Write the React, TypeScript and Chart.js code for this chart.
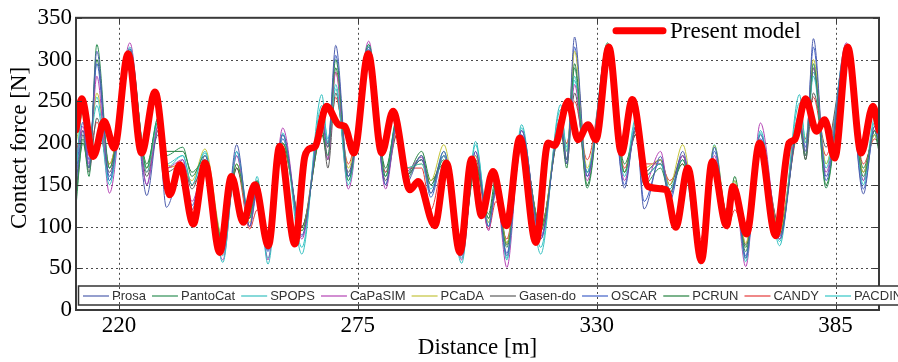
import React, { useEffect, useRef } from "react";
import { Chart, registerables } from "chart.js";

Chart.register(...registerables);

const SERIF = "'Liberation Serif', 'Times New Roman', serif";
const SANS = "'Liberation Sans', Arial, sans-serif";

// Distance [m] of the knots of the reference-code curves
const thinX = [
  210.1, 211.7, 213.1, 214.9, 217.8, 222.5, 226.4, 229.0, 230.9, 234.7, 236.8, 239.8, 243.9, 247.1, 250.1, 251.8, 254.3, 257.7, 262.1,
  266.7, 268.1, 269.9, 272.8, 277.5, 281.4, 284.0, 285.9, 289.7, 291.8, 294.8, 298.9, 302.1, 305.1, 306.8, 309.3, 312.7, 317.1,
  321.7, 323.1, 324.9, 327.8, 332.5, 336.4, 339.0, 340.9, 344.7, 346.8, 349.8, 353.9, 357.1, 360.1, 361.8, 364.3, 367.7, 372.1,
  376.7, 378.1, 379.9, 382.8, 387.5, 391.4, 394.0, 395.0,
];

const prosa = [
  150, 215, 170, 310, 160, 313, 137, 215, 123, 175, 120, 185, 70, 198, 100, 145, 72, 210, 90,
  225, 195, 317, 160, 315, 150, 225, 150, 185, 140, 190, 65, 190, 100, 145, 65, 215, 85,
  225, 175, 327, 160, 312, 146, 220, 121, 184, 135, 190, 65, 195, 105, 150, 62, 210, 85,
  225, 190, 325, 160, 315, 139, 220, 200,
];
const pantoCat = [
  125, 205, 160, 318, 170, 310, 170, 230, 185, 195, 160, 185, 80, 175, 110, 155, 80, 200, 95,
  215, 185, 300, 155, 318, 160, 230, 155, 185, 150, 180, 75, 175, 110, 150, 75, 205, 95,
  220, 180, 290, 146, 320, 165, 215, 150, 170, 140, 180, 70, 180, 110, 150, 70, 200, 90,
  225, 185, 295, 146, 312, 160, 215, 195,
];
const spops = [
  165, 245, 200, 245, 150, 315, 165, 225, 175, 185, 150, 190, 57, 190, 110, 160, 55, 210, 67,
  258, 200, 265, 150, 318, 160, 225, 170, 175, 140, 185, 56, 202, 100, 155, 60, 222, 67,
  246, 190, 280, 165, 315, 160, 225, 160, 175, 145, 180, 55, 195, 100, 150, 58, 215, 77,
  258, 200, 280, 170, 318, 150, 225, 210,
];
const capasim = [
  180, 220, 175, 280, 140, 320, 150, 220, 170, 180, 130, 175, 60, 185, 100, 150, 60, 218, 85,
  235, 180, 285, 145, 322, 145, 220, 165, 183, 140, 185, 60, 190, 95, 145, 51, 215, 85,
  230, 180, 270, 155, 318, 155, 215, 150, 190, 140, 185, 62, 185, 105, 140, 52, 224, 85,
  235, 185, 290, 165, 320, 155, 220, 205,
];
const pcada = [
  200, 235, 195, 260, 175, 300, 170, 215, 175, 170, 155, 193, 85, 175, 105, 150, 85, 200, 95,
  225, 195, 285, 170, 305, 160, 215, 170, 175, 155, 198, 80, 185, 105, 150, 80, 205, 95,
  230, 190, 310, 170, 305, 165, 215, 170, 180, 150, 198, 75, 197, 110, 155, 80, 200, 95,
  235, 200, 300, 175, 305, 165, 210, 200,
];
const gasendo = [
  140, 210, 165, 230, 165, 300, 160, 210, 165, 175, 145, 180, 80, 170, 110, 150, 80, 200, 100,
  220, 170, 260, 165, 305, 155, 210, 160, 180, 150, 185, 75, 180, 110, 150, 78, 200, 100,
  220, 175, 260, 165, 305, 165, 210, 165, 180, 150, 185, 75, 180, 115, 150, 78, 200, 100,
  225, 180, 260, 195, 305, 165, 215, 195,
];
const oscar = [
  160, 225, 180, 295, 155, 310, 150, 220, 140, 180, 125, 180, 70, 190, 100, 140, 70, 205, 88,
  230, 200, 305, 160, 312, 150, 225, 160, 180, 135, 185, 68, 185, 100, 140, 68, 210, 88,
  230, 180, 315, 160, 310, 150, 220, 130, 180, 130, 185, 68, 190, 105, 145, 65, 205, 88,
  230, 195, 315, 155, 310, 145, 215, 195,
];
const pcrun = [
  135, 200, 170, 300, 170, 305, 175, 225, 190, 190, 165, 180, 85, 170, 115, 155, 85, 195, 100,
  210, 180, 290, 160, 310, 170, 225, 160, 190, 155, 175, 78, 170, 115, 160, 80, 200, 100,
  215, 170, 295, 150, 318, 175, 210, 160, 175, 145, 175, 78, 175, 115, 160, 75, 195, 95,
  220, 180, 290, 150, 310, 170, 210, 190,
];
const candy = [
  190, 215, 185, 225, 175, 295, 165, 215, 170, 175, 150, 170, 85, 170, 97, 120, 85, 195, 100,
  210, 195, 255, 175, 300, 165, 210, 170, 170, 120, 175, 85, 175, 97, 130, 85, 195, 100,
  215, 200, 250, 180, 300, 170, 210, 175, 175, 155, 175, 85, 180, 97, 120, 88, 195, 100,
  215, 205, 255, 185, 300, 175, 205, 200,
];
const pacdin = [
  170, 240, 205, 255, 155, 312, 170, 230, 170, 185, 150, 188, 65, 185, 110, 155, 62, 212, 75,
  245, 205, 270, 155, 315, 165, 230, 165, 180, 145, 190, 62, 198, 105, 150, 62, 218, 75,
  240, 195, 275, 165, 312, 165, 230, 165, 180, 150, 185, 62, 198, 105, 155, 62, 212, 82,
  248, 205, 285, 175, 315, 155, 230, 215,
];

// Present model
const presentX = [
  210.1, 211.4, 214.1, 216.6, 218.9, 222.1, 225.2, 228.3, 231.7, 234.0, 237.1, 239.8, 243.2, 245.9, 248.6, 251.3, 254.4, 257.0, 260.5, 262.8,
  264.3, 265.2, 267.8, 270.6, 272.0, 274.1, 277.4, 280.5, 283.1, 287.0, 288.9, 292.7, 295.4, 298.5, 301.2, 303.5, 306.1, 309.2, 312.3, 316.0,
  318.8, 320.3, 323.4, 325.7, 328.0, 329.8, 332.8, 335.7, 338.2, 341.8, 346.0, 348.2, 351.0, 354.1, 356.6, 359.9, 361.4, 364.5, 367.5, 371.2,
  374.3, 375.6, 378.1, 380.6, 382.5, 384.8, 387.8, 390.9, 393.6, 395.0,
];
const presentY = [
  216, 253, 184, 226, 194, 307, 188, 261, 138, 174, 103, 176, 69, 160, 105, 150, 77, 196, 79, 184,
  194, 196, 244, 222, 220, 188, 307, 188, 238, 144, 154, 101, 176, 69, 181, 113, 166, 101, 206, 81,
  200, 197, 250, 204, 222, 204, 315, 188, 252, 148, 144, 99, 170, 59, 178, 101, 148, 91, 200, 89,
  200, 204, 253, 214, 228, 182, 315, 188, 244, 215,
];

const seriesNames = ["Prosa", "PantoCat", "SPOPS", "CaPaSIM", "PCaDA", "Gasen-do", "OSCAR", "PCRUN", "CANDY", "PACDIN"];
const seriesColors = ["#4f5fae", "#2f8f55", "#38c0c0", "#b444b4", "#c4c43c", "#5c5c5c", "#4262c8", "#23803f", "#e43a3a", "#34c6c6"];
const seriesValues = [prosa, pantoCat, spops, capasim, pcada, gasendo, oscar, pcrun, candy, pacdin];

const presentLabel = "Present model";
const xTicks = [220, 275, 330, 385];
const yTicks = [0, 50, 100, 150, 200, 250, 300, 350];
const xTitle = "Distance [m]";
const yTitle = "Contact force [N]";

const framePlugin = {
  id: "frameDecor",
  beforeDatasetsDraw(chart: any) {
    const { ctx, chartArea: a, scales } = chart;
    const x = scales.x;
    const y = scales.y;
    ctx.save();
    ctx.strokeStyle = "#4a4a4a";
    ctx.lineWidth = 1;
    ctx.setLineDash([2, 3]);
    for (const v of xTicks) {
      const px = Math.round(x.getPixelForValue(v)) + 0.5;
      ctx.beginPath();
      ctx.moveTo(px, a.top);
      ctx.lineTo(px, a.bottom);
      ctx.stroke();
    }
    for (const v of yTicks) {
      if (v === 0 || v === 350) continue;
      const py = Math.round(y.getPixelForValue(v)) + 0.5;
      ctx.beginPath();
      ctx.moveTo(a.left, py);
      ctx.lineTo(a.right, py);
      ctx.stroke();
    }
    ctx.restore();
  },
  afterDatasetsDraw(chart: any) {
    const { ctx, chartArea: a, scales } = chart;
    const x = scales.x;
    const y = scales.y;
    ctx.save();
    // frame
    ctx.strokeStyle = "#3a3a3a";
    ctx.lineWidth = 2;
    ctx.setLineDash([]);
    ctx.strokeRect(a.left, a.top, a.right - a.left, a.bottom - a.top);
    // inward ticks
    ctx.lineWidth = 1;
    for (const v of yTicks) {
      const py = Math.round(y.getPixelForValue(v)) + 0.5;
      ctx.beginPath();
      ctx.moveTo(a.left, py);
      ctx.lineTo(a.left + 6, py);
      ctx.moveTo(a.right, py);
      ctx.lineTo(a.right - 6, py);
      ctx.stroke();
    }
    for (const v of xTicks) {
      const px = Math.round(x.getPixelForValue(v)) + 0.5;
      ctx.beginPath();
      ctx.moveTo(px, a.bottom);
      ctx.lineTo(px, a.bottom - 6);
      ctx.moveTo(px, a.top);
      ctx.lineTo(px, a.top + 6);
      ctx.stroke();
    }
    // bottom legend box
    const boxTop = a.bottom - 24;
    const boxH = 19;
    ctx.fillStyle = "#ffffff";
    ctx.fillRect(a.left + 2, boxTop, 900, boxH);
    ctx.strokeStyle = "#333333";
    ctx.lineWidth = 1.5;
    ctx.strokeRect(a.left + 2.5, boxTop, 900, boxH);
    // gridlines through the box
    ctx.strokeStyle = "#4a4a4a";
    ctx.lineWidth = 1;
    ctx.setLineDash([2, 3]);
    for (const v of xTicks) {
      const px = Math.round(x.getPixelForValue(v)) + 0.5;
      ctx.beginPath();
      ctx.moveTo(px, boxTop + 1);
      ctx.lineTo(px, boxTop + boxH - 1);
      ctx.stroke();
    }
    ctx.setLineDash([]);
    ctx.font = `13px ${SANS}`;
    ctx.textBaseline = "middle";
    ctx.textAlign = "left";
    const cy = boxTop + boxH / 2 + 0.5;
    let cx = a.left + 7;
    for (let i = 0; i < seriesNames.length; i++) {
      ctx.strokeStyle = seriesColors[i];
      ctx.lineWidth = 1.2;
      ctx.beginPath();
      ctx.moveTo(cx, cy);
      ctx.lineTo(cx + 26, cy);
      ctx.stroke();
      ctx.fillStyle = "#333333";
      ctx.fillText(seriesNames[i], cx + 29, cy + 0.5);
      cx += 26 + 3 + ctx.measureText(seriesNames[i]).width + 6;
    }
    // top legend (present model)
    const ly = a.top + 13;
    ctx.strokeStyle = "#ff0000";
    ctx.lineWidth = 7;
    ctx.lineCap = "round";
    ctx.beginPath();
    ctx.moveTo(616, ly);
    ctx.lineTo(663, ly);
    ctx.stroke();
    ctx.fillStyle = "#000000";
    ctx.font = `23px ${SERIF}`;
    ctx.fillText(presentLabel, 670, ly + 1);
    ctx.restore();
  },
  afterDraw(chart: any) {
    const { ctx, chartArea: a } = chart;
    ctx.save();
    ctx.fillStyle = "#000000";
    ctx.font = `23px ${SERIF}`;
    ctx.textAlign = "center";
    ctx.textBaseline = "middle";
    ctx.fillText(xTitle, (a.left + a.right) / 2, 348);
    ctx.translate(20, 148);
    ctx.rotate(-Math.PI / 2);
    ctx.fillText(yTitle, 0, 0);
    ctx.restore();
  },
};

export default function App() {
  const ref = useRef<HTMLCanvasElement>(null);
  useEffect(() => {
    document.body.style.margin = "0";
    const canvas = ref.current;
    if (!canvas) return;
    const thinSets = seriesNames.map((name, i) => ({
      label: name,
      data: thinX.map((x, j) => ({ x, y: seriesValues[i][j] })),
      borderColor: seriesColors[i],
      backgroundColor: seriesColors[i],
      borderWidth: 1,
      pointRadius: 0,
      cubicInterpolationMode: "monotone" as const,
      order: 1,
    }));
    const present = {
      label: presentLabel,
      data: presentX.map((x, j) => ({ x, y: presentY[j] })),
      borderColor: "#ff0000",
      backgroundColor: "#ff0000",
      borderWidth: 7,
      pointRadius: 0,
      cubicInterpolationMode: "monotone" as const,
      borderCapStyle: "round" as const,
      borderJoinStyle: "round" as const,
      order: 0,
    };
    const chart = new Chart(canvas, {
      type: "line",
      data: { datasets: [...thinSets, present] as any },
      options: {
        animation: false,
        responsive: true,
        maintainAspectRatio: false,
        events: [],
        layout: { padding: { top: 15, right: 19, left: 0, bottom: 0 } },
        plugins: { legend: { display: false }, tooltip: { enabled: false } },
        scales: {
          x: {
            type: "linear",
            min: 210.1,
            max: 395,
            grid: { display: false, drawTicks: false },
            border: { display: false },
            afterBuildTicks: (s: any) => {
              s.ticks = xTicks.map((v) => ({ value: v }));
            },
            afterFit: (s: any) => {
              s.height = 52;
            },
            ticks: {
              autoSkip: false,
              maxRotation: 0,
              padding: 2,
              color: "#000000",
              font: { family: SERIF, size: 23 },
            },
          },
          y: {
            type: "linear",
            min: 0,
            max: 350,
            grid: { display: false, drawTicks: false },
            border: { display: false },
            afterBuildTicks: (s: any) => {
              s.ticks = yTicks.map((v) => ({ value: v }));
            },
            afterFit: (s: any) => {
              s.width = 76;
            },
            ticks: {
              padding: 4,
              color: "#000000",
              font: { family: SERIF, size: 23 },
            },
          },
        },
      },
      plugins: [framePlugin],
    });
    return () => chart.destroy();
  }, []);
  return (
    <div style={{ position: "relative", width: 898, height: 362 }}>
      <canvas ref={ref} />
    </div>
  );
}
